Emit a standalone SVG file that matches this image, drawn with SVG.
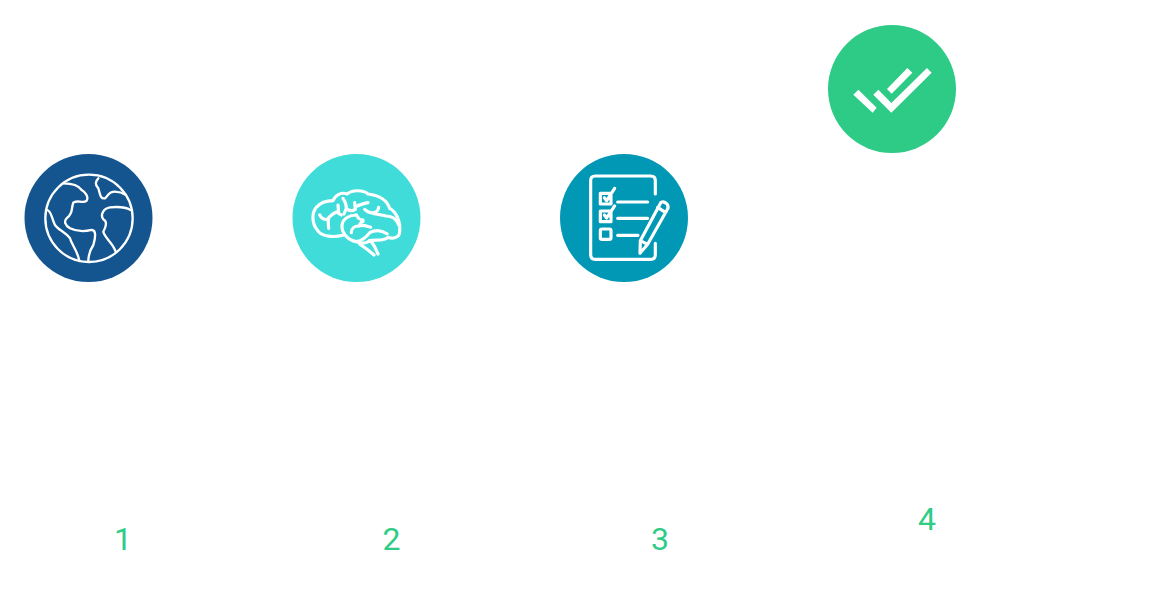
<svg xmlns="http://www.w3.org/2000/svg" width="1152" height="616" viewBox="0 0 1152 616">
<style>
.i{fill:none;stroke:#fff;stroke-width:7;stroke-linecap:round;stroke-linejoin:round}
.b{stroke-width:9.500}
.n{font-family:Roboto,"Liberation Sans",sans-serif;font-size:32px;fill:#2ecc87;text-anchor:middle}
</style>
<rect width="1152" height="616" fill="#fff"/>
<g id="node-1">
<circle cx="88.5" cy="218" r="64" fill="#14558f"/>
<g class="i" transform="translate(20 150) scale(.3333)">
<circle cx="207" cy="205" r="131"/>
<path d="M130 100C150 100 175 105 185 120C195 126 207 140 200 152C190 162 170 148 160 158C153 175 160 190 142 203C130 213 135 226 150 235C170 245 195 245 215 240C230 240 226 265 220 285C210 300 205 320 205 335"/>
<path d="M82 180C95 185 95 205 105 225C115 240 135 245 150 265C155 285 172 300 178 333"/>
<path d="M235 85C225 95 225 105 235 115C240 130 240 148 255 145C265 137 265 125 285 125C300 125 310 130 318 135"/>
<path d="M332 180C315 170 290 170 270 172C250 175 240 195 250 208C265 215 255 235 250 245C255 265 280 280 287 305"/>
</g>
<text class="n" x="123" y="550">1</text>
</g>
<g id="node-2">
<circle cx="356.5" cy="218" r="64" fill="#3fdcd9"/>
<g class="i b" transform="translate(288 150) scale(.3333)">
<path d="M165 256C140 262 100 262 88 240C72 222 70 190 85 172C100 155 120 152 135 152C142 135 160 125 178 132C190 120 225 118 240 132C265 135 295 145 305 175C325 185 338 215 335 245C335 262 315 268 300 262C285 275 265 268 245 272C235 280 220 282 205 275C180 270 160 250 162 225C165 205 185 195 205 195"/>
<path d="M95 195C100 205 110 210 122 208M122 235L120 205C128 198 135 188 150 185M150 165L152 190L160 195"/>
<path d="M165 145C172 155 175 165 175 175C180 180 190 185 202 178L200 158M175 175L168 192M202 170C215 165 228 160 240 158"/>
<path d="M230 178C245 195 270 190 272 172M255 190L295 198C310 198 325 205 332 225M225 215L218 208"/>
<path d="M205 195L212 205M190 248C190 235 200 228 212 228L225 210M212 228C225 222 235 228 248 232"/>
<path d="M205 275C225 272 235 262 245 248C260 240 280 240 298 252"/>
<path d="M215 282L240 300L258 315M245 272C258 280 262 295 270 312"/>
</g>
<text class="n" x="391.500" y="550">2</text>
</g>
<g id="node-3">
<circle cx="624" cy="218" r="64" fill="#0098b5"/>
<g class="i b" transform="translate(556 150) scale(.3333)">
<path d="M298 132V92Q298 78 284 78H118Q104 78 104 92V314Q104 328 118 328H284Q298 328 298 314V280"/>
<path d="M165 130H133V162H165ZM145 143L152 152L176 115"/>
<path d="M165 183H133V215H165ZM145 195L152 204L176 168"/>
<rect x="133" y="237" width="32" height="31" rx="5"/>
<path d="M185 156H275M185 205H275M185 256H246"/>
<path d="M315 157Q325 152 333 162Q340 172 333 180L275 283L252 310L253 272ZM253 272L275 283M305 172L328 187"/>
</g>
<text class="n" x="660" y="550">3</text>
</g>
<g id="node-4">
<circle cx="892" cy="89" r="64" fill="#2ecb87"/>
<g fill="#fff" transform="translate(824 20) scale(.3333)">
<path d="M103 209L158 263L146 278L88 224Z"/>
<path d="M163 209L202 249L309 144L323 158L202 278L148 224Z"/>
<path d="M250 144L265 158L203 221L189 207Z"/>
</g>
<text class="n" x="927" y="530">4</text>
</g>
<g id="connectors"/>
</svg>
